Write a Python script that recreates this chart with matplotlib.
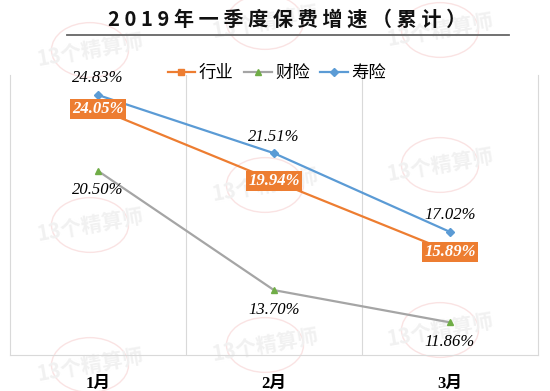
import matplotlib
matplotlib.use("Agg")
import matplotlib.pyplot as plt
from matplotlib.patches import Circle

plt.rcParams['font.family'] = ['Noto Sans CJK SC', 'DejaVu Sans']

# ===== 数据 =====
months = ['1月', '2月', '3月']
industry = [24.05, 19.94, 15.89]   # 行业
property_ins = [20.50, 13.70, 11.86]  # 财险
life_ins = [24.83, 21.51, 17.02]   # 寿险
series_names = ['行业', '财险', '寿险']

orange = '#ED7D31'
gray = '#A5A5A5'
green = '#70AD47'
blue = '#5B9BD5'
serif = ['Liberation Serif', 'Noto Sans CJK SC']

fig = plt.figure(figsize=(5.5, 3.91), dpi=100)

# ---- 水印 (13个精算师), 放在最底层 ----
marks = [(90, 50), (90, 225), (90, 365), (265, 22), (265, 185), (265, 345),
         (440, 30), (440, 165), (440, 330)]
for px, py in marks:
    fx, fy = px / 550, 1 - py / 391
    fig.patches.append(Circle((fx, fy), 0.07, transform=fig.transFigure,
                              fill=False, ec='#fae3e3', lw=1.0, zorder=-2))
    fig.text(fx, fy, '13个精算师', fontsize=15, fontweight='bold', style='italic',
             color='#f1f1f1', rotation=10, ha='center', va='center', zorder=-1)

ax = fig.add_axes([10 / 550, 1 - 355 / 391, 528 / 550, (355 - 74.5) / 391])
ax.set_zorder(1)
ax.patch.set_alpha(0)
x = range(len(months))

ax.plot(x, industry, color=orange, lw=1.6, marker='s', ms=4, label=series_names[0], zorder=3)
ax.plot(x, property_ins, color=gray, lw=1.6, marker='^', ms=5, mfc=green, mec=green,
        label=series_names[1], zorder=3)
ax.plot(x, life_ins, color=blue, lw=1.6, marker='D', ms=4, label=series_names[2], zorder=3)

ax.set_xlim(-0.5, 2.5)
ax.set_ylim(10, 26)
ax.set_yticks([])
ax.set_xticks(list(x))
ax.set_xticklabels(months, family=serif, fontweight='bold', fontsize=12)
ax.tick_params(axis='x', length=0, pad=15)
for xv in [0.5, 1.5]:
    ax.axvline(xv, color='#d9d9d9', lw=0.8, zorder=1)
for s in ['left', 'right', 'bottom']:
    ax.spines[s].set_color('#d9d9d9')
    ax.spines[s].set_linewidth(0.8)
ax.spines['top'].set_visible(False)

# ---- 数据标签 ----
for i, v in enumerate(life_ins):
    ax.annotate(f'{v:.2f}%', (i, v), xytext=(0, 12), textcoords='offset points',
                ha='center', va='center', family=serif, style='italic', fontsize=12, zorder=4)
for i, v in enumerate(property_ins):
    ax.annotate(f'{v:.2f}%', (i, v), xytext=(0, -14), textcoords='offset points',
                ha='center', va='center', family=serif, style='italic', fontsize=12, zorder=4)
for i, v in enumerate(industry):
    ax.text(i, v, f'{v:.2f}%', ha='center', va='center', family=serif, style='italic',
            fontweight='bold', fontsize=12, color='white', zorder=5,
            bbox=dict(boxstyle='square,pad=0.12', fc=orange, ec='none'))

ax.legend(loc='center', bbox_to_anchor=(277 / 550, 1 - 73 / 391), bbox_transform=fig.transFigure,
          ncol=3, frameon=False, fontsize=12.5, handlelength=1.6, handletextpad=0.2,
          columnspacing=0.6, borderaxespad=0)

# ---- 标题 ----
fig.text(287 / 550, 1 - 19 / 391, ' '.join('2019年一季度保费增速（累计）'), ha='center', va='center',
         fontsize=14.5, fontweight='bold', color='#111111')
fig.add_artist(plt.Line2D([67 / 550, 509 / 550], [1 - 35 / 391] * 2, color='#666666', lw=1.3,
                          transform=fig.transFigure))

fig.savefig('out.png', dpi=100)
